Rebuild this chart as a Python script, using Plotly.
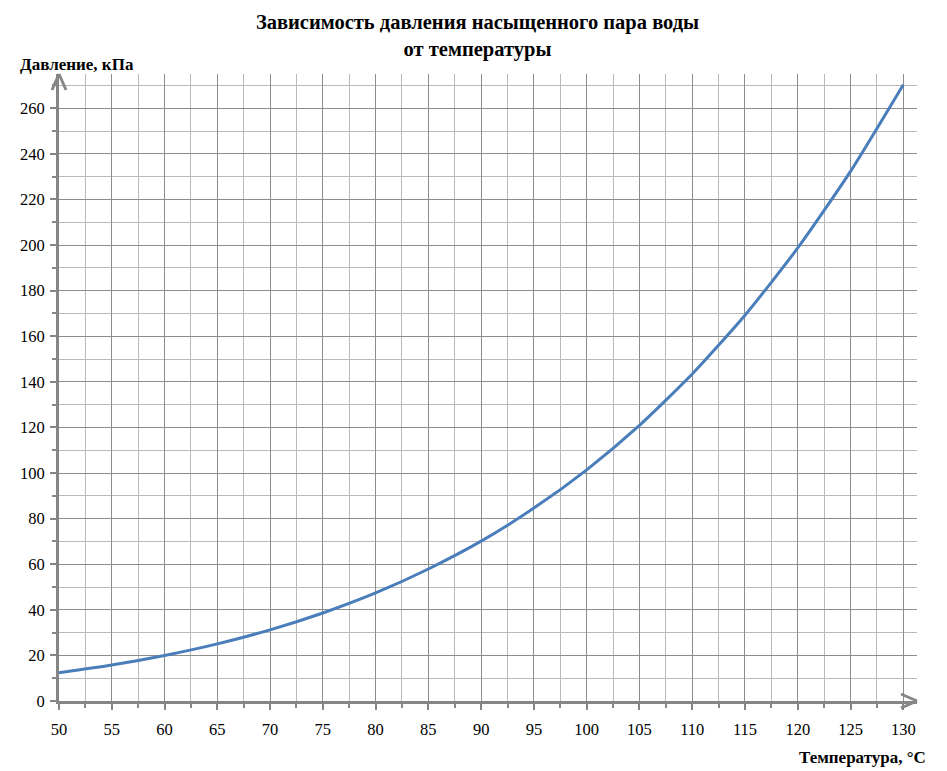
import plotly.graph_objects as go

temperature_c = [50, 55, 60, 65, 70, 75, 80, 85, 90, 95, 100, 105, 110, 115, 120, 125, 130]
pressure_kpa = [12.35, 15.76, 19.95, 25.04, 31.2, 38.6, 47.4, 57.9, 70.1, 84.6, 101.4,
                120.9, 143.4, 169.2, 198.7, 232.3, 270.3]
x_ticks = [50, 55, 60, 65, 70, 75, 80, 85, 90, 95, 100, 105, 110, 115, 120, 125, 130]
y_ticks = [0, 20, 40, 60, 80, 100, 120, 140, 160, 180, 200, 220, 240, 260]

title_text = "Зависимость давления насыщенного пара воды<br>от температуры"
y_title = "Давление, кПа"
x_title = "Температура, °C"

SERIF = "Times New Roman, Liberation Serif, DejaVu Serif, serif"
AXIS_GRAY = "#868686"
MAJOR_GRID = "#8c8c8c"
MINOR_GRID = "#b9b9b9"
X_MAX = 131.3
Y_MAX = 275

W, H = 939, 763  # page body adds an 8px margin

fig = go.Figure()
fig.add_trace(go.Scatter(
    x=temperature_c, y=pressure_kpa, mode="lines",
    line=dict(color="#4a7ebb", width=3, shape="spline", smoothing=0.6),
    showlegend=False, hoverinfo="x+y",
))

fig.update_layout(
    width=W, height=H,
    margin=dict(l=51, r=30, t=66, b=70, autoexpand=False),
    paper_bgcolor="white", plot_bgcolor="white",
    font=dict(family=SERIF, size=16, color="black"),
    title=dict(text="<b>" + title_text + "</b>", x=0.5, xanchor="center",
               y=1 - 21 / H, yanchor="top", font=dict(family=SERIF, size=20.5, color="black")),
)

fig.update_xaxes(
    range=[50, X_MAX], tickmode="array", tickvals=x_ticks, ticktext=[str(v) for v in x_ticks],
    showgrid=True, gridcolor=MAJOR_GRID, gridwidth=1,
    showline=True, linecolor=AXIS_GRAY, linewidth=3,
    ticks="outside", ticklen=6, tickwidth=2, tickcolor=AXIS_GRAY,
    ticklabelstandoff=5,
    minor=dict(dtick=2.5, tick0=50, showgrid=True, gridcolor=MINOR_GRID, gridwidth=1,
               ticks="outside", ticklen=4, tickwidth=2, tickcolor=AXIS_GRAY),
    zeroline=False, tickfont=dict(family=SERIF, size=16.5, color="black"),
)
fig.update_yaxes(
    range=[0, Y_MAX], tickmode="array", tickvals=y_ticks, ticktext=[str(v) for v in y_ticks],
    showgrid=True, gridcolor=MAJOR_GRID, gridwidth=1,
    showline=True, linecolor=AXIS_GRAY, linewidth=3,
    ticks="outside", ticklen=6, tickwidth=2, tickcolor=AXIS_GRAY,
    ticklabelstandoff=2,
    minor=dict(dtick=10, tick0=0, showgrid=True, gridcolor=MINOR_GRID, gridwidth=1,
               ticks="outside", ticklen=4, tickwidth=2, tickcolor=AXIS_GRAY),
    zeroline=False, tickfont=dict(family=SERIF, size=16.5, color="black"),
)

# open chevron arrowheads at the axis ends (pixel-sized lines anchored on the plot edges)
for dy in (7, -7):
    fig.add_shape(type="line", xref="paper", yref="paper", xsizemode="pixel", ysizemode="pixel",
                  xanchor=1, yanchor=0, x0=-16, y0=dy, x1=0, y1=0,
                  line=dict(color=AXIS_GRAY, width=3), layer="above")
for dx in (-7, 7):
    fig.add_shape(type="line", xref="paper", yref="paper", xsizemode="pixel", ysizemode="pixel",
                  xanchor=0, yanchor=1, x0=dx, y0=-16, x1=0, y1=0,
                  line=dict(color=AXIS_GRAY, width=3), layer="above")

fig.add_annotation(text="<b>" + y_title + "</b>", xref="paper", yref="paper",
                   x=-41 / 858, y=1.0, xanchor="left", yanchor="middle", yshift=10,
                   showarrow=False, font=dict(family=SERIF, size=17, color="black"))
fig.add_annotation(text="<b>" + x_title + "</b>", xref="paper", yref="paper",
                   x=1 + 11 / 858, y=0, xanchor="right", yanchor="middle", yshift=-56,
                   showarrow=False, font=dict(family=SERIF, size=17, color="black"))

fig.write_html("out.html")
